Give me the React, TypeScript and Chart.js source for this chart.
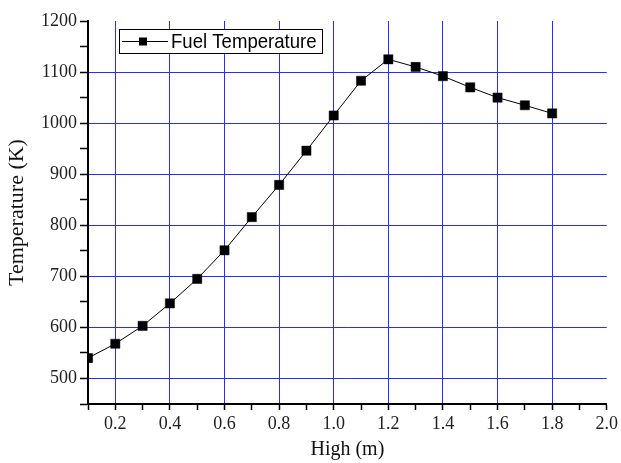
import React, { useEffect, useRef } from "react";
import { Chart, registerables } from "chart.js";

Chart.register(...registerables);

const heights = [0.1, 0.2, 0.3, 0.4, 0.5, 0.6, 0.7, 0.8, 0.9, 1.0, 1.1, 1.2, 1.3, 1.4, 1.5, 1.6, 1.7, 1.8];
const fuelTemperature = [540, 568, 603, 647, 695, 751, 816, 879, 946, 1015, 1083, 1125, 1110, 1092, 1070, 1050, 1035, 1019];
const xTicks = [0.1, 0.2, 0.3, 0.4, 0.5, 0.6, 0.7, 0.8, 0.9, 1.0, 1.1, 1.2, 1.3, 1.4, 1.5, 1.6, 1.7, 1.8, 1.9, 2.0];
const xLabels = ["0.2", "0.4", "0.6", "0.8", "1.0", "1.2", "1.4", "1.6", "1.8", "2.0"];
const yTicks = [450, 500, 550, 600, 650, 700, 750, 800, 850, 900, 950, 1000, 1050, 1100, 1150, 1200];
const yLabels = ["500", "600", "700", "800", "900", "1000", "1100", "1200"];
const seriesName = "Fuel Temperature";

const GRID_BLUE = "rgb(45,45,250)";
const SERIF = "'Liberation Serif', 'Times New Roman', serif";

const legendPlugin = {
  id: "originLegend",
  afterDraw(chart: any) {
    const ctx = chart.ctx;
    const { left, top } = chart.chartArea;
    const bx = Math.round(left + 31);
    const by = Math.round(top + 8);
    const bw = 203;
    const bh = 24;
    ctx.save();
    ctx.fillStyle = "#fff";
    ctx.fillRect(bx, by, bw, bh);
    ctx.strokeStyle = "#000";
    ctx.lineWidth = 1;
    ctx.strokeRect(bx + 0.5, by + 0.5, bw, bh);
    const cy = by + bh / 2 + 0.5;
    ctx.beginPath();
    ctx.moveTo(bx + 3, cy);
    ctx.lineTo(bx + 49, cy);
    ctx.stroke();
    ctx.fillStyle = "#000";
    ctx.fillRect(bx + 20, cy - 4, 8, 8);
    ctx.font = "21px 'Liberation Sans', Arial, sans-serif";
    ctx.textBaseline = "middle";
    ctx.textAlign = "left";
    ctx.translate(bx + 52, cy + 1);
    ctx.scale(0.885, 1);
    ctx.fillText(seriesName, 0, 0);
    ctx.restore();
  },
};

export default function App() {
  const ref = useRef<HTMLCanvasElement | null>(null);

  useEffect(() => {
    if (!ref.current) return;
    const chart = new Chart(ref.current, {
      type: "line",
      data: {
        datasets: [
          {
            label: seriesName,
            data: heights.map((h, i) => ({ x: h, y: fuelTemperature[i] })),
            borderColor: "#000",
            borderWidth: 1,
            pointStyle: "rect",
            pointRadius: 6.5,
            pointBackgroundColor: "#000",
            pointBorderColor: "#000",
            pointBorderWidth: 0.5,
            tension: 0,
          },
        ],
      },
      options: {
        animation: false,
        responsive: false,
        layout: { padding: { left: 0, right: 14, top: 21, bottom: 0 } },
        plugins: { legend: { display: false }, tooltip: { enabled: false } },
        scales: {
          x: {
            type: "linear",
            min: 0.1,
            max: 2.0,
            afterBuildTicks: (scale: any) => {
              scale.ticks = xTicks.map((v) => ({ value: v }));
            },
            afterFit: (scale: any) => {
              scale.height = 59;
            },
            border: { display: true, color: "#000", width: 2 },
            grid: {
              color: (ctx: any) => {
                const v = ctx.tick ? ctx.tick.value : 0;
                const lbl = v.toFixed(1);
                return xLabels.includes(lbl) && lbl !== "2.0" ? GRID_BLUE : "rgba(0,0,0,0)";
              },
              lineWidth: 1,
              drawTicks: true,
              tickLength: 6,
              tickColor: "#000",
              tickWidth: 1.5,
            },
            ticks: {
              autoSkip: false,
              maxRotation: 0,
              padding: 3,
              color: "#222",
              font: { family: SERIF, size: 18 },
              callback: (value: any) => {
                const lbl = Number(value).toFixed(1);
                return xLabels.includes(lbl) ? lbl : "";
              },
            },
            title: {
              display: true,
              text: "High (m)",
              color: "#111",
              font: { family: SERIF, size: 20 },
              padding: { top: 0, bottom: 1 },
            },
          },
          y: {
            type: "linear",
            min: 450,
            max: 1200,
            afterBuildTicks: (scale: any) => {
              scale.ticks = yTicks.map((v) => ({ value: v }));
            },
            afterFit: (scale: any) => {
              scale.width = 88;
            },
            border: { display: true, color: "#000", width: 2 },
            grid: {
              color: (ctx: any) => {
                const v = ctx.tick ? String(ctx.tick.value) : "";
                return yLabels.includes(v) && v !== "1200" ? GRID_BLUE : "rgba(0,0,0,0)";
              },
              lineWidth: 1,
              drawTicks: true,
              tickLength: 8,
              tickColor: "#000",
              tickWidth: 1.5,
            },
            ticks: {
              autoSkip: false,
              padding: 3,
              color: "#222",
              font: { family: SERIF, size: 18 },
              callback: (value: any) => {
                const s = String(value);
                return yLabels.includes(s) ? s : "";
              },
            },
            title: {
              display: true,
              text: "Temperature (K)",
              color: "#111",
              font: { family: SERIF, size: 22 },
              padding: { top: 4, bottom: 0 },
            },
          },
        },
      },
      plugins: [legendPlugin],
    } as any);
    return () => chart.destroy();
  }, []);

  return (
    <div style={{ position: "absolute", left: 0, top: 0, width: 621, height: 463, background: "#fff" }}>
      <canvas ref={ref} width={621} height={463} />
    </div>
  );
}
